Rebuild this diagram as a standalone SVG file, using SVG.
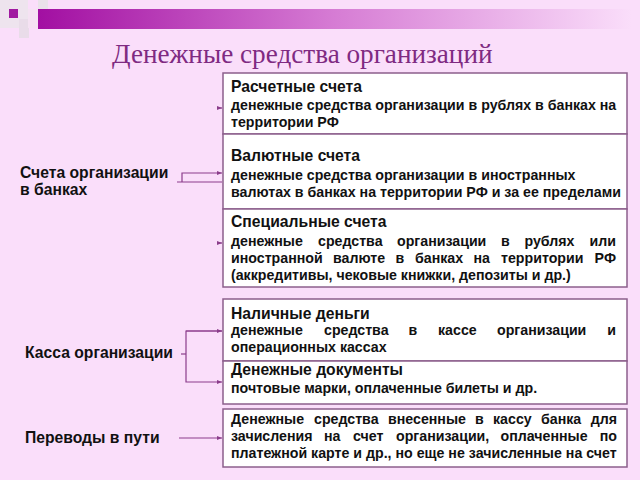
<svg xmlns="http://www.w3.org/2000/svg" width="640" height="480" viewBox="0 0 640 480">
<defs>
<linearGradient id="bar" x1="38" y1="0" x2="632" y2="0" gradientUnits="userSpaceOnUse">
<stop offset="0" stop-color="#A20FA2"/>
<stop offset="0.5" stop-color="#D67CD4"/>
<stop offset="1" stop-color="#FADEFA"/>
</linearGradient>
<marker id="arr" markerWidth="6" markerHeight="6" refX="5" refY="3" orient="auto" markerUnits="userSpaceOnUse">
<path d="M0,1 L5,3 L0,5 z" fill="#8B3D8B"/>
</marker>
<style>
.box{fill:#fff;stroke:#8C5F8C;stroke-width:1.5}
.t{font-family:"Liberation Sans",Arial,sans-serif;font-weight:bold;font-size:15.7px;fill:#111}
.d{font-family:"Liberation Sans",Arial,sans-serif;font-weight:bold;font-size:14.2px;fill:#111}
.e{text-anchor:end}
.c{fill:none;stroke:#8B3D8B;stroke-width:1.2}
.h{font-family:"Liberation Serif","Times New Roman",serif;font-size:27.2px;fill:#7F2A82}
</style>
</defs>
<rect x="0" y="0" width="640" height="480" fill="#FADEFA"/>
<g id="decor">
<rect x="0" y="0" width="28" height="28" fill="#EEE4EE"/>
<rect x="19" y="19" width="10" height="19" fill="#E9DCE9"/>
<rect x="28" y="9" width="10" height="19" fill="#F5E2F3"/>
<rect x="38" y="0" width="10" height="9" fill="#EAE2EA"/>
<rect x="9" y="9" width="9" height="9" fill="#A01AA0"/>
<rect x="38" y="9" width="594" height="20" fill="url(#bar)"/>
</g>
<text id="title" class="h" x="112" y="63">Денежные средства организаций</text>

<g id="lbl-banks">
<text class="t" x="20" y="178">Счета организации</text>
<text class="t" x="20" y="195">в банках</text>
</g>
<g id="lbl-kassa"><text class="t" x="25" y="358">Касса организации</text></g>
<g id="lbl-transit"><text class="t" x="25" y="443">Переводы в пути</text></g>

<g id="node-raschet">
<rect class="box" x="223" y="73" width="404" height="61"/>
<text class="t" x="231" y="92">Расчетные счета</text>
<text class="d" x="231" y="110">денежные средства организации в рублях в банках на</text>
<text class="d" x="231" y="127">территории РФ</text>
</g>
<g id="node-valut">
<rect class="box" x="223" y="134" width="404" height="75"/>
<text class="t" x="231" y="161">Валютные счета</text>
<text class="d" x="231" y="180">денежные средства организации в иностранных</text>
<text class="d" x="231" y="197">валютах в банках на территории РФ и за ее пределами</text>
</g>
<g id="node-special">
<rect class="box" x="223" y="209" width="404" height="78"/>
<text class="t" x="231" y="227">Специальные счета</text>
<text class="d" y="246"><tspan x="231">денежные</tspan><tspan x="318">средства</tspan><tspan x="397">организации</tspan><tspan x="501">в</tspan><tspan x="524.5">рублях</tspan></text>
<text class="d e" x="616" y="246">или</text>
<text class="d" y="263"><tspan x="231">иностранной</tspan><tspan x="333">валюте</tspan><tspan x="395.5">в</tspan><tspan x="415">банках</tspan><tspan x="473.5">на</tspan><tspan x="501">территории</tspan></text>
<text class="d e" x="616" y="263">РФ</text>
<text class="d" x="231" y="280">(аккредитивы, чековые книжки, депозиты и др.)</text>
</g>
<g id="node-cash">
<rect class="box" x="223" y="299" width="404" height="62"/>
<text class="t" x="231" y="319">Наличные деньги</text>
<text class="d" y="335"><tspan x="231">денежные</tspan><tspan x="324">средства</tspan><tspan x="408.5">в</tspan><tspan x="438">кассе</tspan><tspan x="497">организации</tspan></text>
<text class="d e" x="616" y="335">и</text>
<text class="d" x="231" y="352">операционных кассах</text>
</g>
<g id="node-docs">
<rect class="box" x="223" y="361" width="404" height="43"/>
<text class="t" x="231" y="375">Денежные документы</text>
<text class="d" x="231" y="393">почтовые марки, оплаченные билеты и др.</text>
</g>
<g id="node-transit">
<rect class="box" x="223" y="409" width="404" height="58"/>
<text class="d" y="424"><tspan x="231">Денежные</tspan><tspan x="314">средства</tspan><tspan x="388">внесенные</tspan><tspan x="475">в</tspan><tspan x="493">кассу</tspan><tspan x="541">банка</tspan></text>
<text class="d e" x="617" y="424">для</text>
<text class="d" y="441"><tspan x="231">зачисления</tspan><tspan x="324">на</tspan><tspan x="353">счет</tspan><tspan x="396">организации,</tspan><tspan x="500.5">оплаченные</tspan></text>
<text class="d e" x="617" y="441">по</text>
<text class="d" x="231" y="458">платежной карте и др., но еще не зачисленные на счет</text>
</g>

<g id="connectors">
<path class="c" d="M177,182 H222"/>
<path class="c" d="M182,182 V173 H222" marker-end="url(#arr)"/>
<path class="c" d="M219,108 H222" marker-end="url(#arr)"/>
<path class="c" d="M219,243 H222" marker-end="url(#arr)"/>
<path class="c" d="M181,354 H186"/>
<path class="c" d="M222,331 H186 V382 H222" marker-end="url(#arr)"/>
<path class="c" d="M186,331 H222" marker-end="url(#arr)"/>
<path class="c" d="M179,438 H222" marker-end="url(#arr)"/>
</g>
</svg>
